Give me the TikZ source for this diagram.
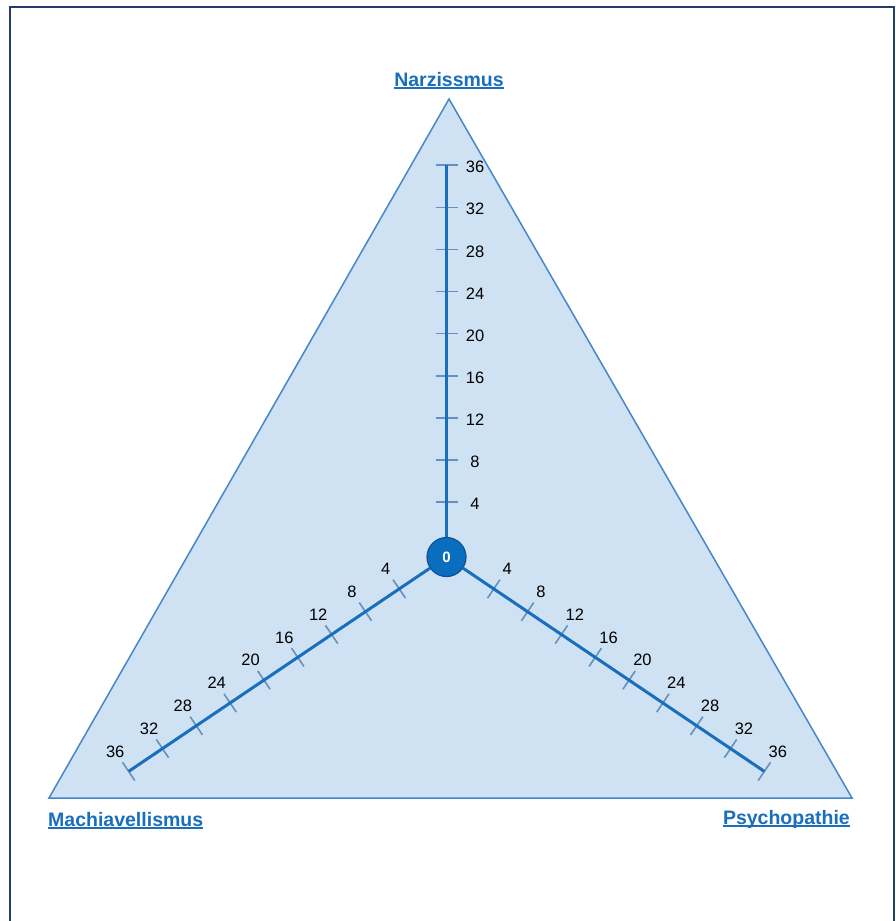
\documentclass[tikz,border=0pt]{standalone}
\usepackage{fontspec}
\setmainfont{Liberation Sans}
\usetikzlibrary{calc}
\definecolor{trifill}{RGB}{207,226,243}
\definecolor{tridraw}{RGB}{70,135,200}
\definecolor{axiscol}{RGB}{25,110,190}
\definecolor{tickcol}{RGB}{100,145,190}
\definecolor{hubfill}{RGB}{10,110,190}
\definecolor{hubdraw}{RGB}{15,80,150}
\definecolor{framecol}{RGB}{35,60,105}
\definecolor{titlecol}{RGB}{25,110,190}
\newcommand\ulined[1]{\setbox0\hbox{#1}\rlap{\color{titlecol}\rule[-2.6pt]{\wd0}{1.5pt}}\box0}
\begin{document}
\begin{tikzpicture}[x=1pt,y=-1pt,
  axisline/.style={draw=axiscol,line width=3pt},
  tickmark/.style={draw=tickcol,line width=1.6pt},
  numlabel/.style={font=\fontsize{16.5}{16.5}\selectfont,text=black,inner sep=0pt},
  dimlabel/.style={font=\fontsize{19.5}{19.5}\selectfont\bfseries,text=titlecol,inner sep=0pt},
  hubnode/.style={circle,fill=hubfill,draw=hubdraw,line width=1.2pt,minimum size=39pt,inner sep=0pt,text=white,font=\fontsize{15}{15}\selectfont\bfseries}]
\useasboundingbox (0,0) rectangle (896,921);
\fill[white] (0,0) rectangle (896,921);
\draw[framecol,line width=2pt] (9.5,930) -- (9.5,6.5) -- (894,6.5) -- (894,930);
% triangle
\coordinate (apex) at (449,99);
\coordinate (bl) at (49,798);
\coordinate (br) at (852,798);
\filldraw[fill=trifill,draw=tridraw,line width=1.5pt,line join=miter] (apex) -- (bl) -- (br) -- cycle;
% origin
\coordinate (o) at (446.5,557);
% vertical axis ticks
\foreach \k/\v in {1/4,2/8,3/12,4/16,5/20,6/24,7/28,8/32,9/36}{
  \coordinate (t) at ($(o)+(0,{-55-(\k-1)*42.1})$);
  \draw[tickmark] ($(t)+(-11,0)$) -- ($(t)+(11,0)$);
  \node[numlabel] (nl\k) at ($(t)+(28.5,2)$) {\v};
}
% right axis ticks
\foreach \k/\v in {1/4,2/8,3/12,4/16,5/20,6/24,7/28,8/32,9/36}{
  \coordinate (t) at ($(o)+(34:{57+(\k-1)*40.8})$);
  \draw[tickmark] ($(t)+(-56:11)$) -- ($(t)+(124:11)$);
  \node[numlabel] (pl\k) at ($(t)+(-56:24)$) {\v};
}
% left axis ticks
\foreach \k/\v in {1/4,2/8,3/12,4/16,5/20,6/24,7/28,8/32,9/36}{
  \coordinate (t) at ($(o)+(146:{57+(\k-1)*40.8})$);
  \draw[tickmark] ($(t)+(236:11)$) -- ($(t)+(56:11)$);
  \node[numlabel] (ml\k) at ($(t)+(236:24)$) {\v};
}
% axis ends
\coordinate (nend) at ($(o)+(0,-392)$);
\coordinate (pend) at ($(o)+(34:383.4)$);
\coordinate (mend) at ($(o)+(146:383.4)$);
% hub
\node[hubnode] (hub) at (o) {0};
\draw[axisline] (hub) -- (nend);
\draw[axisline] (hub) -- (pend);
\draw[axisline] (hub) -- (mend);
% titles
\node[dimlabel,anchor=base] (narz) at (449,86) {\ulined{Narzissmus}};
\node[dimlabel,anchor=base west] (mach) at (48,826) {\ulined{Machiavellismus}};
\node[dimlabel,anchor=base east] (psych) at (850,824) {\ulined{Psychopathie}};
\end{tikzpicture}
\end{document}
